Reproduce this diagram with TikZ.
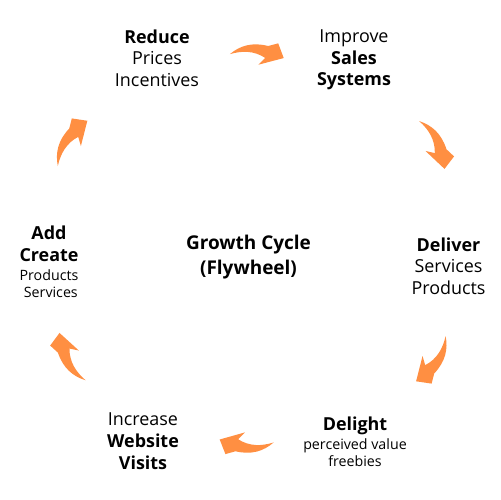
\documentclass[tikz,border=0pt]{standalone}
\usepackage{fontspec}
\setmainfont{Open Sans}
\definecolor{flyorange}{RGB}{255,143,66}
\newcommand\notesize{\fontsize{8.1}{9.6}\selectfont}
\begin{document}
\begin{tikzpicture}[x=0.02cm, y=0.02cm,
    stage/.style={align=center, inner sep=0pt, font=\fontsize{10.2}{12.35}\selectfont},
    hub/.style={align=center, inner sep=0pt, font=\bfseries\fontsize{10.8}{14.5}\selectfont},
    brush/.style={fill=flyorange}]
    \path[fill=white] (-250,-250) rectangle (250,250);

    % cycle stages
    \node[stage] (reduce) at (-93,192) {\textbf{Reduce}\\Prices\\Incentives};
    \node[stage] (improve) at (104,190) {Improve\\\textbf{Sales}\\\textbf{Systems}};
    \node[stage] (deliver) at (198.5,-16) {\textbf{Deliver}\\Services\\Products};
    \node[stage] (delight) at (105,-191.5) {\textbf{Delight}\\[-1.5pt]\notesize perceived value\\[-2.7pt]\notesize freebies};
    \node[stage] (increase) at (-107,-191) {Increase\\\textbf{Website}\\\textbf{Visits}};
    \node[stage] (add) at (-201,-12) {\textbf{Add}\\\textbf{Create}\\[-1.4pt]\notesize Products\\[-2.85pt]\notesize \ Services};
    \node[hub] (growth) at (-1.5,-7) {Growth Cycle\\(Flywheel)};

    % brush arrows, clockwise
    \foreach \ang/\rad in {88/195, 30/211, -31/212, -91/192, 211/208, 149/208}
        \fill[brush, shift={(\ang:\rad)}, rotate=\ang-90]
            (-27,0) .. controls (-17,9) and (-5,13) .. (11,9.5) -- (21,12.5)
            -- (27,-2) -- (2,-9.5) -- (8.5,-2.5)
            .. controls (-3,4.5) and (-15,4) .. cycle;
\end{tikzpicture}
\end{document}
